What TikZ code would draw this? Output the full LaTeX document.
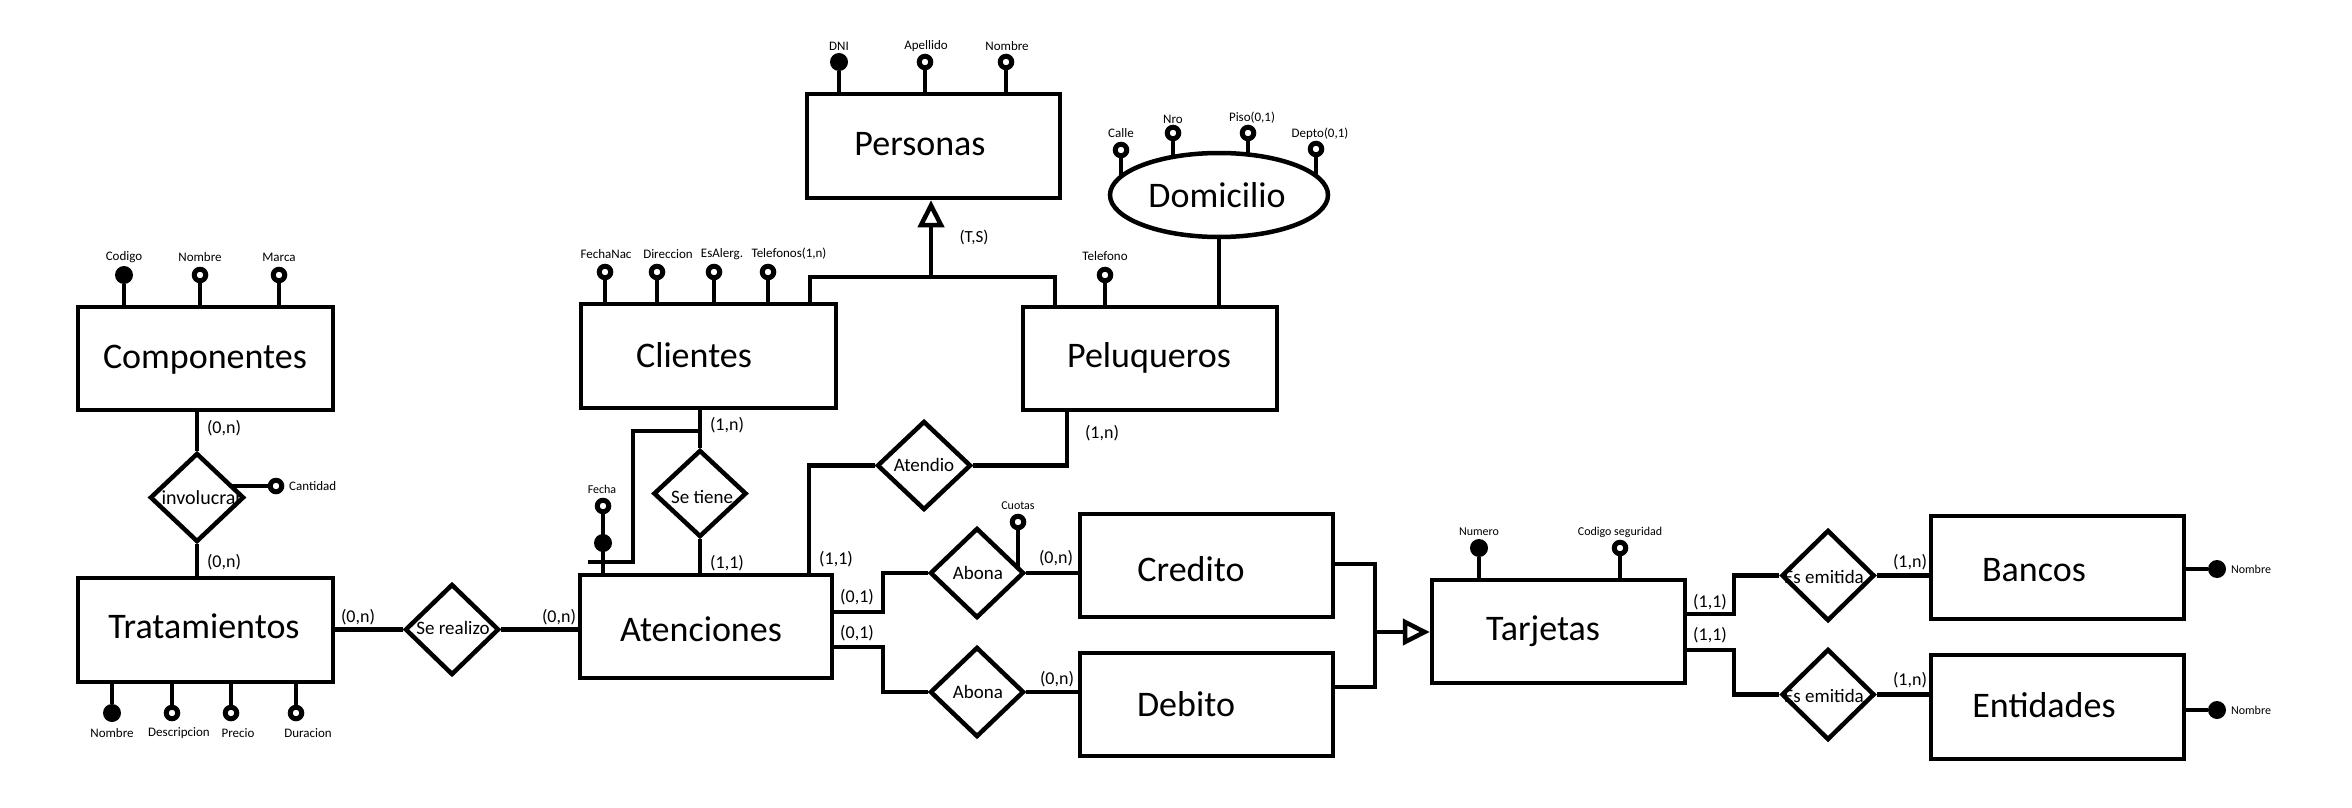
\documentclass[tikz,border=0pt]{standalone}
\usepackage{fontspec}
\setmainfont{Carlito}
\usetikzlibrary{shapes.geometric,arrows.meta,backgrounds}
\begin{document}
\begin{tikzpicture}[x=1pt,y=-1pt,
  ent/.style={rectangle,draw,line width=4.5pt,fill=white,inner sep=0pt,minimum width=253pt,minimum height=103pt},
  rel/.style={diamond,draw,line width=4.5pt,fill=white,inner sep=0pt,minimum width=94pt,minimum height=90pt},
  etxt/.style={anchor=base,font=\fontsize{36}{40}\selectfont,inner sep=0pt},
  rtxt/.style={anchor=base,font=\fontsize{19}{22}\selectfont,inner sep=0pt},
  card/.style={font=\fontsize{18}{21}\selectfont,inner sep=0pt},
  atxt/.style={font=\fontsize{13}{15}\selectfont,inner sep=0pt},
  ao/.style={circle,draw,line width=5pt,fill=white,minimum size=11.5pt,inner sep=0pt},
  af/.style={circle,fill=black,minimum size=18pt,inner sep=0pt},
  conn/.style={line width=4.5pt},
  isatip/.style={-{Triangle[open,length=27pt,width=26pt]}},
]
\useasboundingbox (0,0) rectangle (2352,808);

% ---------- Componentes ----------
\node[ent,minimum width=255pt] (comp) at (205.5,358.5) {};
\node[etxt] (compT) at (205,368) {Componentes};
\node[af] (compA1) at (124,275) {};
\node[ao] (compA2) at (200,275) {};
\node[ao] (compA3) at (279,275) {};
\node[atxt] (compL1) at (124,257) {Codigo};
\node[atxt] (compL2) at (200,257) {Nombre};
\node[atxt] (compL3) at (279,257) {Marca};

\node[rel,minimum height=89pt] (invol) at (197,497.5) {};
\node[rtxt,font=\fontsize{20}{22}\selectfont] (involT) at (202,504) {involucrar};
\node[ao] (cant) at (276,486) {};
\node[atxt,anchor=west] (cantL) at (289,486) {Cantidad};
\node[card] (c1) at (224,428) {(0,n)};
\node[card] (c2) at (224,562) {(0,n)};

% ---------- Tratamientos ----------
\node[ent,minimum width=255pt,minimum height=104pt] (trat) at (205.5,630) {};
\node[etxt] (tratT) at (204,638) {Tratamientos};
\node[af] (tA1) at (112,713) {};
\node[ao] (tA2) at (172,713) {};
\node[ao] (tA3) at (231,713) {};
\node[ao] (tA4) at (296,713) {};
\node[atxt] (tL1) at (112,733) {Nombre};
\node[atxt] (tL2) at (179,733) {Descripcion};
\node[atxt] (tL3) at (238,733) {Precio};
\node[atxt] (tL4) at (308,733) {Duracion};

\node[rel,minimum height=91pt] (real) at (452,629.5) {};
\node[rtxt] (realT) at (453,634) {Se realizo};
\node[card] (c3) at (358,617) {(0,n)};
\node[card] (c4) at (559,617) {(0,n)};

% ---------- Atenciones ----------
\node[ent,minimum width=252pt] (aten) at (706,626.5) {};
\node[etxt] (atenT) at (701,641) {Atenciones};

% ---------- Clientes ----------
\node[ent,minimum width=255pt,minimum height=104pt] (cli) at (708.5,356) {};
\node[etxt] (cliT) at (694,367) {Clientes};
\node[ao] (cA1) at (605,272) {};
\node[ao] (cA2) at (657,272) {};
\node[ao] (cA3) at (714,272) {};
\node[ao] (cA4) at (768,272) {};
\node[atxt] (cL1) at (606,254) {FechaNac};
\node[atxt] (cL2) at (668,254) {Direccion};
\node[atxt] (cL3) at (722,254) {EsAlerg.};
\node[atxt] (cL4) at (789,254) {Telefonos(1,n)};

\node[rel,minimum width=93pt,minimum height=87pt] (tiene) at (700,493.5) {};
\node[rtxt] (tieneT) at (702,503) {Se tiene};
\node[card] (c5) at (727,425) {(1,n)};
\node[card] (c6) at (727,563) {(1,1)};

\node[ao] (fecha) at (603,506) {};
\node[af] (fechaK) at (603,543) {};
\node[atxt,font=\fontsize{12}{14}\selectfont] (fechaL) at (602,489) {Fecha};
\coordinate (fbar) at (588,562);
\coordinate (fcorner) at (633,431);

% ---------- Personas ----------
\node[ent,minimum height=104pt] (pers) at (933.5,146) {};
\node[etxt] (persT) at (920,155) {Personas};
\node[af] (pA1) at (839,62) {};
\node[ao] (pA2) at (925,62) {};
\node[ao] (pA3) at (1006,62) {};
\node[atxt] (pL1) at (839,46) {DNI};
\node[atxt] (pL2) at (926,46) {Apellido};
\node[atxt] (pL3) at (1007,46) {Nombre};
\coordinate (isa) at (931,277);
\node[font=\fontsize{17}{20}\selectfont,inner sep=0pt] (ts) at (974,237) {(T,S)};

% ---------- Peluqueros ----------
\node[ent,minimum width=254pt] (pel) at (1150,358.5) {};
\node[etxt] (pelT) at (1149,367) {Peluqueros};
\node[ao] (pelA) at (1105,275) {};
\node[atxt] (pelL) at (1105,256) {Telefono};

\node[ellipse,draw,line width=4.5pt,fill=white,minimum width=218pt,minimum height=84pt,inner sep=0pt] (dom) at (1219,195) {};
\node[etxt] (domT) at (1217,207) {Domicilio};
\node[ao] (dA1) at (1121,150) {};
\node[ao] (dA2) at (1173,133) {};
\node[ao] (dA3) at (1248,133) {};
\node[ao] (dA4) at (1316,149) {};
\node[atxt] (dL1) at (1121,133) {Calle};
\node[atxt] (dL2) at (1173,119) {Nro};
\node[atxt] (dL3) at (1252,118) {Piso(0,1)};
\node[atxt] (dL4) at (1320,134) {Depto(0,1)};

\node[rel,minimum height=89pt] (atend) at (924,465.5) {};
\node[rtxt] (atendT) at (924,471) {Atendio};
\node[card] (c7) at (1102,433) {(1,n)};
\node[card] (c8) at (836,559) {(1,1)};

% ---------- Abona / Credito / Debito ----------
\node[rel] (ab1) at (977,573) {};
\node[rtxt] (ab1T) at (978,579) {Abona};
\node[ao] (cuo) at (1018,522) {};
\node[atxt,font=\fontsize{12}{14}\selectfont] (cuoL) at (1018,506) {Cuotas};
\node[card] (c9) at (857,597) {(0,1)};
\node[card] (c10) at (1056,558) {(0,n)};

\node[rel] (ab2) at (977,692) {};
\node[rtxt] (ab2T) at (978,698) {Abona};
\node[card] (c11) at (857,633) {(0,1)};
\node[card] (c12) at (1057,679) {(0,n)};

\node[ent] (cred) at (1206.5,565.5) {};
\node[etxt] (credT) at (1191,581) {Credito};
\node[ent] (deb) at (1206.5,704.5) {};
\node[etxt] (debT) at (1186,716) {Debito};
\coordinate (gen) at (1375,632);

% ---------- Tarjetas ----------
\node[ent] (tar) at (1558.5,631.5) {};
\node[etxt] (tarT) at (1543,640) {Tarjetas};
\node[af] (tA) at (1479,548) {};
\node[ao] (tB) at (1620,548) {};
\node[atxt,font=\fontsize{12}{14}\selectfont] (tAL) at (1479,532) {Numero};
\node[atxt,font=\fontsize{12}{14}\selectfont] (tBL) at (1620,532) {Codigo seguridad};

\node[rel,minimum width=93pt,minimum height=91pt] (em1) at (1828,575.5) {};
\node[rtxt] (em1T) at (1824,583) {Es emitida};
\node[rel,minimum width=93pt,minimum height=91pt] (em2) at (1828,694.5) {};
\node[rtxt] (em2T) at (1824,702) {Es emitida};
\node[card] (c13) at (1710,602) {(1,1)};
\node[card] (c14) at (1910,562) {(1,n)};
\node[card] (c15) at (1710,635) {(1,1)};
\node[card] (c16) at (1910,680) {(1,n)};

\node[ent] (banc) at (2057.5,567.5) {};
\node[etxt] (bancT) at (2034,581) {Bancos};
\node[af] (bN) at (2217,569) {};
\node[atxt,font=\fontsize{12}{14}\selectfont] (bNL) at (2251,569) {Nombre};

\node[ent,minimum height=104pt] (enti) at (2057.5,707) {};
\node[etxt] (entiT) at (2044,717) {Entidades};
\node[af] (eN) at (2217,710) {};
\node[atxt,font=\fontsize{12}{14}\selectfont] (eNL) at (2251,710) {Nombre};

% ---------- connectors ----------
\begin{scope}[on background layer={line width=4.5pt}]
  \foreach \a in {compA1,compA2,compA3} \draw[conn] (comp.north -| \a) -- (\a);
  \foreach \a in {tA1,tA2,tA3,tA4} \draw[conn] (trat.south -| \a) -- (\a);
  \foreach \a in {cA1,cA2,cA3,cA4} \draw[conn] (cli.north -| \a) -- (\a);
  \foreach \a in {pA1,pA2,pA3} \draw[conn] (pers.north -| \a) -- (\a);
  \foreach \a in {dA1,dA2,dA3,dA4} \draw[conn] (\a) -- (\a |- dom.center);
  \draw[conn] (pel.north -| pelA) -- (pelA);
  \draw[conn] (tar.north -| tA) -- (tA);
  \draw[conn] (tar.north -| tB) -- (tB);
  \draw[conn] (banc.east |- bN) -- (bN);
  \draw[conn] (enti.east |- eN) -- (eN);
  \draw[conn] (cant) -- (cant -| invol.center);
  \draw[conn] (cuo) -- (cuo |- ab1.center);

  \draw[conn] (comp.south -| invol.north) -- (invol.north);
  \draw[conn] (invol.south) -- (invol.south |- trat.north);
  \draw[conn] (trat.east |- real.west) -- (real.west);
  \draw[conn] (real.east) -- (real.east -| aten.west);

  \draw[conn] (cli.south -| tiene.north) -- (tiene.north);
  \draw[conn] (tiene.south) -- (tiene.south |- aten.north);
  \draw[conn] (aten.north -| fecha) -- (fecha);
  \draw[conn] (fbar) -| (fcorner) -- (fcorner -| tiene.north);

  \draw[conn] (aten.north -| 809,0) |- (atend.west);
  \draw[conn] (atend.east) -| (pel.south -| 1067,0);

  \draw[conn,isatip] (isa) -- (isa |- pers.south);
  \draw[conn] (cli.north -| 810,0) |- (isa) -| (pel.north -| 1055,0);
  \draw[conn] (dom.south) -- (dom.south |- pel.north);

  \draw[conn] (aten.east |- 0,612) -| (883,573) -- (ab1.west);
  \draw[conn] (ab1.east) -- (ab1.east -| cred.west);
  \draw[conn] (aten.east |- 0,647) -| (883,692) -- (ab2.west);
  \draw[conn] (ab2.east) -- (ab2.east -| deb.west);

  \draw[conn] (cred.east |- 0,564) -| (gen);
  \draw[conn] (deb.east |- 0,687) -| (gen);
  \draw[conn,isatip] (gen) -- (gen -| tar.west);

  \draw[conn] (tar.east |- 0,614) -| (1734,575.5) -- (em1.west);
  \draw[conn] (em1.east) -- (em1.east -| banc.west);
  \draw[conn] (tar.east |- 0,650) -| (1734,694.5) -- (em2.west);
  \draw[conn] (em2.east) -- (em2.east -| enti.west);
\end{scope}
\end{tikzpicture}
\end{document}
